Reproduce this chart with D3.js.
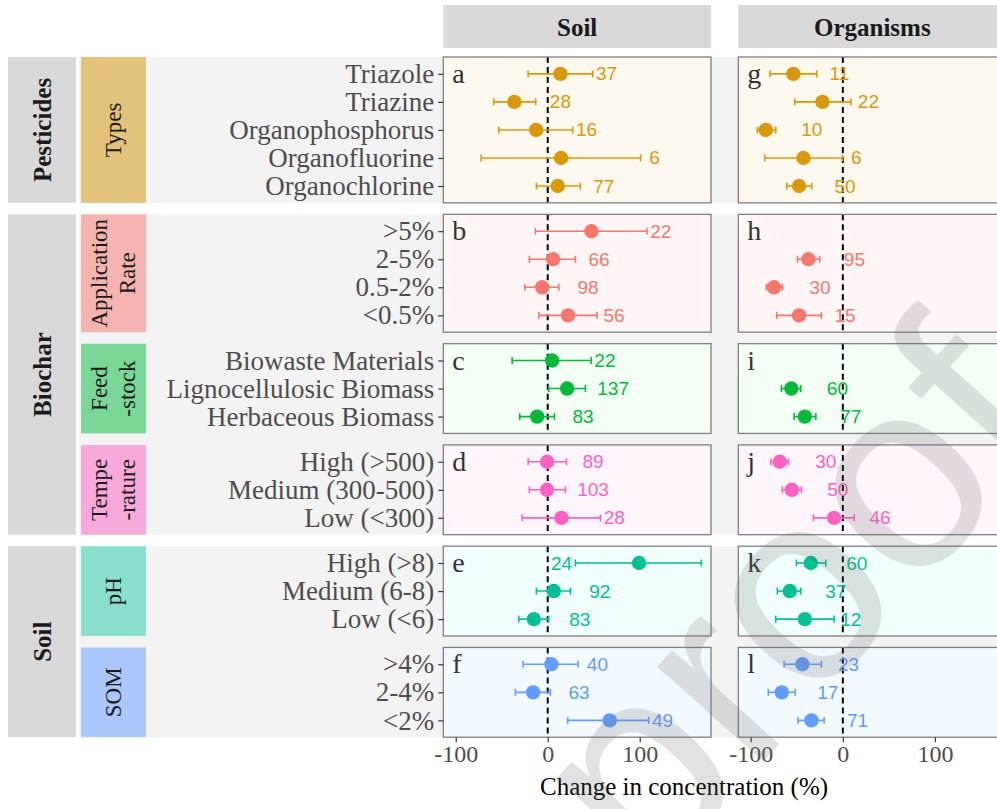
<!DOCTYPE html>
<html>
<head>
<meta charset="utf-8">
<script src="https://cdn.jsdelivr.net/npm/d3@7"></script>
<style>
  html, body { margin: 0; padding: 0; background: #ffffff; }
  svg { display: block; }
</style>
</head>
<body>
<div id="chart"></div>
<script>
// ---- Categories -------------------------------------------------------
const typeCats = ["Triazole", "Triazine", "Organophosphorus", "Organofluorine", "Organochlorine"];
const rateCats = [">5%", "2-5%", "0.5-2%", "<0.5%"];
const feedCats = ["Biowaste Materials", "Lignocellulosic Biomass", "Herbaceous Biomass"];
const tempCats = ["High (>500)", "Medium (300-500)", "Low (<300)"];
const phCats = ["High (>8)", "Medium (6-8)", "Low (<6)"];
const somCats = [">4%", "2-4%", "<2%"];

// ---- Soil: mean change (%), 95% CI and number of observations ----------
const soilTypeMean = [13.8, -36.2, -12.6, 14.5, 10.9];
const soilTypeLow  = [-21.3, -58.7, -53.2, -72.4, -12.3];
const soilTypeHigh = [48.9, -13.0, 27.2, 101.0, 35.5];
const soilTypeN    = [37, 28, 16, 6, 77];

const soilRateMean = [47.5, 5.8, -6.1, 22.1];
const soilRateLow  = [-13.4, -19.9, -25.0, -9.7];
const soilRateHigh = [108.0, 30.1, 12.0, 53.7];
const soilRateN    = [22, 66, 98, 56];

const soilFeedMean = [4.8, 21.1, -11.5];
const soilFeedLow  = [-38.7, 1.1, -30.4];
const soilFeedHigh = [47.2, 41.0, 7.3];
const soilFeedN    = [22, 137, 83];

const soilTempMean = [-0.7, -0.7, 14.9];
const soilTempLow  = [-21.3, -19.9, -27.8];
const soilTempHigh = [20.3, 19.2, 57.3];
const soilTempN    = [89, 103, 28];

const soilPhMean = [99.3, 6.6, -15.1];
const soilPhLow  = [30.1, -12.3, -31.5];
const soilPhHigh = [167.0, 24.7, 1.1];
const soilPhN    = [24, 92, 83];

const soilSomMean = [4.0, -15.9, 67.4];
const soilSomLow  = [-26.7, -35.1, 21.7];
const soilSomHigh = [33.0, 2.9, 109.8];
const soilSomN    = [40, 63, 49];

// ---- Organisms ---------------------------------------------------------
const orgTypeMean = [-53.7, -22.2, -83.7, -42.8, -47.5];
const orgTypeLow  = [-79.0, -52.2, -92.8, -84.8, -60.9];
const orgTypeHigh = [-28.3, 8.7, -72.8, -0.4, -33.7];
const orgTypeN    = [11, 22, 10, 6, 50];

const orgRateMean = [null, -37.4, -74.7, -47.5];
const orgRateLow  = [null, -49.3, -83.0, -71.7];
const orgRateHigh = [null, -25.0, -65.7, -23.3];
const orgRateN    = [null, 95, 30, 15];

const orgFeedMean = [null, -55.9, -41.3];
const orgFeedLow  = [null, -66.7, -52.9];
const orgFeedHigh = [null, -45.7, -29.3];
const orgFeedN    = [null, 60, 77];

const orgTempMean = [-68.5, -55.4, -9.5];
const orgTempLow  = [-78.3, -65.7, -32.0];
const orgTempHigh = [-59.1, -45.0, 12.3];
const orgTempN    = [30, 50, 46];

const orgPhMean = [-34.8, -57.6, -41.3];
const orgPhLow  = [-50.4, -71.1, -72.8];
const orgPhHigh = [-18.5, -45.7, -9.5];
const orgPhN    = [60, 37, 12];

const orgSomMean = [-43.9, -66.3, -34.1];
const orgSomLow  = [-63.8, -80.9, -48.6];
const orgSomHigh = [-23.3, -51.8, -20.3];
const orgSomN    = [23, 17, 71];

// ---- Facet labels, colours, axis ticks ---------------------------------
const outerGroups = ["Pesticides", "Biochar", "Soil"];
const innerStrips = [["Types"], ["Application", "Rate"], ["Feed", "-stock"], ["Tempe", "-rature"], ["pH"], ["SOM"]];
const innerGroupOf = [0, 1, 1, 1, 2, 2];
const facetColors = ["#D9980B", "#F8766D", "#00BA38", "#FF61C3", "#00C094", "#619CFF"];
const stripFills  = ["#E3C27B", "#F6B4B0", "#7CD695", "#F8A9DB", "#8ADFCC", "#A9C7F9"];
const panelFills  = ["#FDF9EE", "#FFF6F5", "#F3FEF5", "#FFF5FC", "#F0FFFD", "#F3FAFF"];
const columnTitles = ["Soil", "Organisms"];
const panelLetters = [["a", "b", "c", "d", "e", "f"], ["g", "h", "i", "j", "k", "l"]];
const xTicks = [-100, 0, 100];
const xTitle = "Change in concentration (%)";

const pack = (mean, low, high, n) => mean.map((m, i) => ({ mean: m, low: low[i], high: high[i], n: n[i] }));

const facets = [
  { cats: typeCats, soil: pack(soilTypeMean, soilTypeLow, soilTypeHigh, soilTypeN), org: pack(orgTypeMean, orgTypeLow, orgTypeHigh, orgTypeN) },
  { cats: rateCats, soil: pack(soilRateMean, soilRateLow, soilRateHigh, soilRateN), org: pack(orgRateMean, orgRateLow, orgRateHigh, orgRateN) },
  { cats: feedCats, soil: pack(soilFeedMean, soilFeedLow, soilFeedHigh, soilFeedN), org: pack(orgFeedMean, orgFeedLow, orgFeedHigh, orgFeedN) },
  { cats: tempCats, soil: pack(soilTempMean, soilTempLow, soilTempHigh, soilTempN), org: pack(orgTempMean, orgTempLow, orgTempHigh, orgTempN) },
  { cats: phCats, soil: pack(soilPhMean, soilPhLow, soilPhHigh, soilPhN), org: pack(orgPhMean, orgPhLow, orgPhHigh, orgPhN) },
  { cats: somCats, soil: pack(soilSomMean, soilSomLow, soilSomHigh, soilSomN), org: pack(orgSomMean, orgSomLow, orgSomHigh, orgSomN) }
];

// ---- Layout ------------------------------------------------------------
const W = 997, H = 809;
const SERIF = "'Liberation Serif', 'Times New Roman', Times, serif";
const SANS = "'Liberation Sans', Arial, Helvetica, sans-serif";
const plotTop = 57, rowUnit = 28.05, panelGap = 11.5;
const columnRanges = [[443.3, 711], [738.3, 1006.3]];
const xDomain = [-113.5, 177.5];

let cursor = plotTop;
facets.forEach(f => {
  const h = (f.cats.length + 0.2) * rowUnit;
  f.top = cursor;
  f.bottom = cursor + h;
  cursor += h + panelGap;
});
const plotBottom = facets[facets.length - 1].bottom;

const svg = d3.select("#chart").append("svg")
  .attr("width", W).attr("height", H)
  .attr("viewBox", [0, 0, W, H]);

// Grey band behind each outer group, with its label strip
outerGroups.forEach((g, gi) => {
  const members = facets.filter((f, i) => innerGroupOf[i] === gi);
  const t = d3.min(members, d => d.top), b = d3.max(members, d => d.bottom);
  svg.append("rect").attr("x", 79).attr("y", t).attr("width", W - 79).attr("height", b - t).attr("fill", "#f3f3f3");
  svg.append("rect").attr("x", 8).attr("y", t).attr("width", 68).attr("height", b - t).attr("fill", "#d9d9d9");
  svg.append("text")
    .attr("transform", `translate(${42},${(t + b) / 2}) rotate(-90)`)
    .attr("text-anchor", "middle").attr("dominant-baseline", "central")
    .attr("font-family", SERIF).attr("font-weight", "bold").attr("font-size", 25)
    .attr("fill", "#1a1a1a").text(g);
});

// Inner coloured strips
facets.forEach((f, i) => {
  svg.append("rect").attr("x", 81).attr("y", f.top).attr("width", 65).attr("height", f.bottom - f.top)
    .attr("fill", stripFills[i]);
  const lines = innerStrips[i];
  const cx = 113, cy = (f.top + f.bottom) / 2, lh = 28;
  lines.forEach((ln, k) => {
    const dx = (k - (lines.length - 1) / 2) * lh;
    svg.append("text")
      .attr("transform", `translate(${cx + dx},${cy}) rotate(-90)`)
      .attr("text-anchor", "middle").attr("dominant-baseline", "central")
      .attr("font-family", SERIF).attr("font-size", 23).attr("fill", "#1a1a1a").text(ln);
  });
});

// Column header strips
columnRanges.forEach((r, c) => {
  svg.append("rect").attr("x", r[0]).attr("y", 5).attr("width", r[1] - r[0]).attr("height", 43).attr("fill", "#d9d9d9");
  svg.append("text").attr("x", (r[0] + r[1]) / 2).attr("y", 27)
    .attr("text-anchor", "middle").attr("dominant-baseline", "central")
    .attr("font-family", SERIF).attr("font-weight", "bold").attr("font-size", 25)
    .attr("fill", "#1a1a1a").text(columnTitles[c]);
});

// Panels
columnRanges.forEach((r, c) => {
  const x = d3.scaleLinear().domain(xDomain).range(r);
  facets.forEach((f, i) => {
    const col = facetColors[i];
    const y = d3.scalePoint().domain(f.cats).range([f.top, f.bottom]).padding(0.6);
    const g = svg.append("g");
    g.append("rect").attr("x", r[0]).attr("y", f.top).attr("width", r[1] - r[0]).attr("height", f.bottom - f.top)
      .attr("fill", panelFills[i]);

    g.append("line").attr("x1", x(0)).attr("x2", x(0)).attr("y1", f.top).attr("y2", f.bottom)
      .attr("stroke", "#000").attr("stroke-width", 2).attr("stroke-dasharray", "6,4");

    const rows = (c === 0 ? f.soil : f.org).map((d, k) => ({ ...d, cat: f.cats[k] })).filter(d => d.mean !== null);

    // Error bars with caps
    const eb = g.selectAll(".eb").data(rows).join("g").attr("stroke", col).attr("stroke-width", 1.6);
    eb.append("line").attr("x1", d => x(d.low)).attr("x2", d => x(d.high)).attr("y1", d => y(d.cat)).attr("y2", d => y(d.cat));
    eb.append("line").attr("x1", d => x(d.low)).attr("x2", d => x(d.low)).attr("y1", d => y(d.cat) - 3.5).attr("y2", d => y(d.cat) + 3.5);
    eb.append("line").attr("x1", d => x(d.high)).attr("x2", d => x(d.high)).attr("y1", d => y(d.cat) - 3.5).attr("y2", d => y(d.cat) + 3.5);

    g.selectAll(".pt").data(rows).join("circle")
      .attr("cx", d => x(d.mean)).attr("cy", d => y(d.cat)).attr("r", 7.2).attr("fill", col);

    // Sample-size labels, pushed clear of the error bar
    g.selectAll(".lab").data(rows).join("text")
      .attr("x", d => {
        let p = Math.max(d.mean + 50, d.high + 15);
        if (x(p) + 12 > r[1]) p = d.low - 15;
        return x(p);
      })
      .attr("y", d => y(d.cat))
      .attr("text-anchor", "middle").attr("dominant-baseline", "central")
      .attr("font-family", SANS).attr("font-size", 19).attr("fill", col)
      .text(d => d.n);

    g.append("text").attr("x", r[0] + 9).attr("y", f.top + 26)
      .attr("font-family", SERIF).attr("font-size", 28).attr("fill", "#333333")
      .text(panelLetters[c][i]);

    g.append("rect").attr("x", r[0]).attr("y", f.top).attr("width", r[1] - r[0]).attr("height", f.bottom - f.top)
      .attr("fill", "none").attr("stroke", "#7f7f7f").attr("stroke-width", 1.3);

    if (c === 0) {
      const ay = g.append("g").attr("transform", `translate(${r[0]},0)`)
        .call(d3.axisLeft(y).tickSize(5).tickPadding(4));
      ay.select(".domain").remove();
      ay.selectAll(".tick line").attr("stroke", "#333").attr("stroke-width", 1.2);
      ay.selectAll(".tick text").attr("font-family", SERIF).attr("font-size", 27).attr("fill", "#4d4d4d");
    }
  });

  const ax = svg.append("g").attr("transform", `translate(0,${plotBottom})`)
    .call(d3.axisBottom(x).tickValues(xTicks).tickFormat(d => String(d)).tickSize(5).tickPadding(3));
  ax.select(".domain").remove();
  ax.selectAll(".tick line").attr("stroke", "#333").attr("stroke-width", 1.2);
  ax.selectAll(".tick text").attr("font-family", SERIF).attr("font-size", 24).attr("fill", "#4d4d4d");
});

svg.append("text").attr("x", 684).attr("y", 795)
  .attr("text-anchor", "middle")
  .attr("font-family", SERIF).attr("font-size", 25).attr("fill", "#000")
  .text(xTitle);

// Diagonal "Journal Pre-proof" stamp over the figure
svg.append("text")
  .attr("transform", "translate(1062,430) rotate(-48)")
  .attr("text-anchor", "end")
  .attr("font-family", SANS).attr("font-size", 270)
  .attr("fill", "#707070").attr("opacity", 0.2)
  .text("Journal Pre-proof");
</script>
</body>
</html>
